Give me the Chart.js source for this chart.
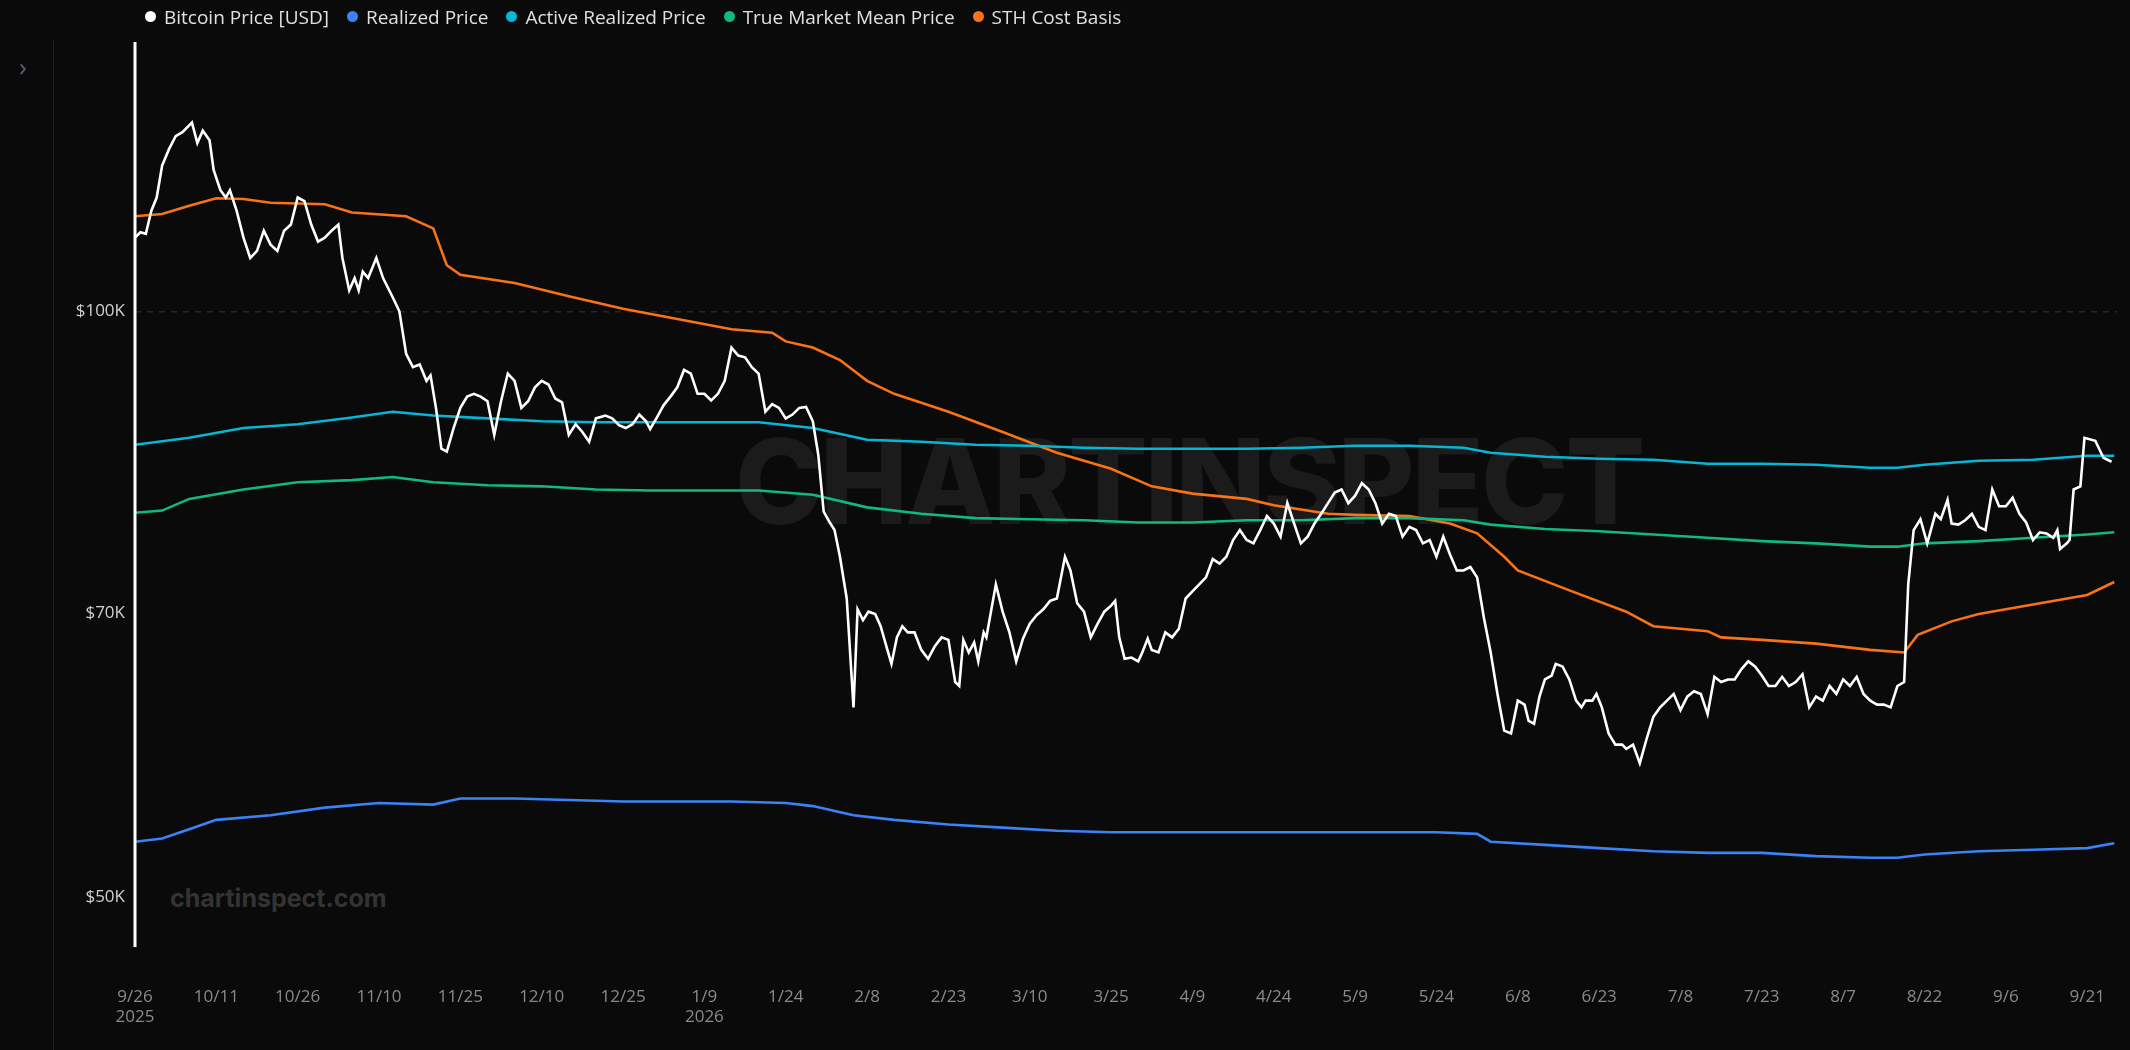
<!DOCTYPE html>
<html><head><meta charset="utf-8">
<script src="https://cdn.jsdelivr.net/npm/chart.js@4.4.1/dist/chart.umd.min.js"></script>
<style>
html,body{margin:0;padding:0;background:#0a0a0a;width:2130px;height:1050px;overflow:hidden;font-family:"Open Sans",Roboto,sans-serif}
#wrap{position:absolute;left:0;top:0;width:2130px;height:1050px}
canvas{position:absolute;left:0;top:0;z-index:2}
.wm{position:absolute;z-index:1;font-family:Inter,"Open Sans",sans-serif;font-weight:800;color:#1b1b1b;white-space:nowrap}
#side{position:absolute;left:53px;top:40px;width:1px;height:1010px;background:#1e1e22}
#chev{position:absolute;left:19px;top:48px;color:#5a6070;font-size:26px}
#legend{position:absolute;left:145px;top:4px;display:flex;gap:18px;color:#dde0e4;font-size:19px;z-index:3}
#legend span.d{display:inline-block;width:11px;height:11px;border-radius:50%;margin-right:8px;vertical-align:middle;position:relative;top:-2px}
</style></head><body>
<div id="wrap">
<div id="side"></div><div id="chev">&#x203A;</div>
<div class="wm" style="left:735px;top:410px;font-size:118px;letter-spacing:-3px">CHARTINSPECT</div>
<div class="wm" style="left:170px;top:883px;font-size:25px;color:#333;font-weight:700">chartinspect.com</div>
<div id="legend"></div>
<canvas id="c" width="2130" height="1050"></canvas>
</div>
<script>
const seriesNames=["Bitcoin Price [USD]","Realized Price","Active Realized Price","True Market Mean Price","STH Cost Basis"];
const seriesColors=["#ffffff","#3b82f6","#06b6d4","#10b981","#f97316"];
const startDate=new Date(2025,8,26);
const tickDays=[0,15,30,45,60,75,90,105,120,135,150,165,180,195,210,225,240,255,270,285,300,315,330,345,360];
const yTicks=[50000,70000,100000];

// Bitcoin price (thousand USD) with day offsets from 2025-09-26
const btcDays=[0,1,2,3,4,5,6.25,7.5,8.75,10.5,11.5,12.5,13.75,14.5,15.75,16.75,17.5,18.75,20,21.25,22.5,23.75,25,26.25,27.5,28.75,30,31.25,32.5,33.75,35,36.25,37.5,38.25,39.5,40.5,41.25,42,43,44.5,45.75,47.5,48.75,50,51.25,52.5,53.75,54.5,55.5,56.5,57.5,58.75,60,61.25,62.5,63.75,65,66.25,67.5,68.75,70,71.25,72.5,73.75,75,76.25,77.5,78.75,80,81.25,82.5,83.75,85,86.75,88,89.25,90.5,91.75,93,94.25,95,96.25,97.5,98.75,100,101.25,102.5,103.75,105,106.25,107.5,108.75,110,111.25,112.5,113.75,115,116.25,117.5,118.75,120,121.25,122.5,123.75,125,126,127,128,129,130,131.25,132.5,133.25,134.25,135.25,136.5,137.5,138.75,139.5,140.5,141.5,142.5,143.75,145,146.25,147.5,148.75,150,151.25,152,152.75,153.75,154.75,155.5,156.5,157,158.75,160,161.25,162.5,163.75,165,166.25,167.5,168.75,170,171.5,172.5,173.75,175,176.25,177.5,178.75,180,180.75,181.5,182.5,183.75,185,185.75,186.75,187.5,188.75,190,191.25,192.5,193.75,195,196.25,197.5,198.75,200,201.25,202.5,203.75,205,206.25,207.5,208.75,210,211.25,212.5,213.75,215,216.25,217.5,218.75,220,221.25,222.5,223.75,225,226.25,227.5,228.75,230,231.25,232.5,233.75,235,236.25,237.5,238.75,240,241.25,242.5,243.75,245,246.25,247.5,248.75,250,251.25,252.5,253.75,255,256.25,257,258,259,260,261.25,262,263.25,264.5,265.75,266.75,267.5,268.75,269.5,270.5,271.75,273,274.25,275,276.25,277.5,278.75,280,281.25,282.5,283.75,285,286.25,287.5,288.75,290,291.25,292.5,293.75,295,296.25,297.5,298.75,300,301.25,302.5,303.75,305,306.25,307.5,308.75,310,311.25,312.5,313.75,315,316.25,317.5,318.75,320,321.25,322.5,323.75,325,326.25,327,328,329.25,330.5,332,333,334.25,335,336.25,337.5,338.75,340,341.25,342.5,343.75,345,346.25,347.5,348.75,350,351.25,352.5,353.75,354.5,355,356.25,356.75,357.5,358.75,359.5,361.5,363,364.5];
const btcPrice=[109.1,109.8,109.6,112.6,114.4,118.8,121.1,123.0,123.6,125.0,122.0,123.8,122.4,118.2,115.4,114.4,115.4,112.6,109.1,106.5,107.4,110.0,108.2,107.4,110.0,110.8,114.4,113.9,110.8,108.6,109.1,110.0,110.8,106.5,102.5,104.0,102.5,104.8,104.0,106.5,104.0,101.7,100.0,95.1,93.6,93.9,92.1,92.7,89.2,85.0,84.7,87.1,89.2,90.4,90.7,90.4,89.9,86.4,89.9,92.9,92.1,89.2,89.9,91.4,92.1,91.7,90.2,89.8,86.4,87.5,86.7,85.7,88.1,88.4,88.1,87.4,87.1,87.5,88.5,87.8,87.0,88.2,89.5,90.4,91.4,93.3,92.9,90.7,90.7,90.0,90.7,92.1,95.8,94.9,94.7,93.6,92.9,88.8,89.6,89.2,88.1,88.5,89.2,89.3,87.8,84.4,78.9,78.0,77.2,74.8,71.2,62.6,70.3,69.4,70.1,69.9,68.9,67.0,65.9,68.0,68.9,68.4,68.4,67.0,66.3,67.3,68.0,67.8,64.5,64.2,67.8,66.8,67.6,66.1,68.4,68.0,72.4,70.1,68.4,66.1,67.9,69.1,69.8,70.3,71.0,71.2,74.8,73.6,70.8,70.1,68.0,69.1,70.1,70.6,71.0,68.0,66.3,66.4,66.1,66.8,67.9,67.0,66.8,68.4,68.0,68.7,71.2,71.8,72.4,73.0,74.6,74.2,74.8,76.3,77.2,76.3,76.0,77.2,78.5,77.8,76.6,79.7,77.8,76.0,76.6,77.8,78.7,79.7,80.7,81.0,79.7,80.4,81.6,81.0,79.7,77.8,78.7,78.5,76.6,77.5,77.2,76.0,76.3,74.8,76.6,75.0,73.6,73.6,73.9,73.0,69.6,66.8,63.6,60.9,60.7,63.1,62.8,61.6,61.4,63.4,64.7,65.0,65.9,65.7,64.7,63.1,62.6,63.1,63.1,63.6,62.6,60.7,59.9,59.9,59.6,59.9,58.6,60.3,61.9,62.6,63.1,63.6,62.4,63.4,63.8,63.6,62.1,64.9,64.5,64.7,64.7,65.5,66.1,65.7,65.0,64.2,64.2,64.9,64.2,64.5,65.1,62.6,63.4,63.1,64.2,63.6,64.7,64.2,64.9,63.6,63.1,62.8,62.8,62.6,64.2,64.5,72.4,77.2,78.2,76.0,78.7,78.2,80.0,77.8,77.7,78.1,78.7,77.5,77.2,81.0,79.4,79.4,80.2,78.7,77.9,76.3,77.0,76.9,76.5,77.2,75.5,76.0,76.3,81.0,81.3,86.1,85.8,84.1,83.7];

const activeDays=[0,10,20,30,40,47.5,55,65,75,85,95,105,115,125,135,145,155,165,175,185,195,205,215,225,235,245,250,260,270,280,290,300,310,320,325,330,340,350,360,365];
const activeRealized=[85.4,86.1,87.1,87.5,88.2,88.8,88.4,88.1,87.8,87.7,87.7,87.7,87.7,87.1,85.9,85.7,85.4,85.3,85.1,85.0,85.0,85.0,85.1,85.3,85.3,85.1,84.6,84.2,84.0,83.9,83.5,83.5,83.4,83.1,83.1,83.4,83.8,83.9,84.3,84.3];

const tmmDays=[0,5,10,20,30,40,47.5,55,65,75,85,95,105,115,125,135,145,155,165,175,185,195,205,215,225,235,245,250,260,270,280,290,300,310,320,325,330,340,350,360,365];
const trueMarketMean=[78.8,79.0,80.1,81.0,81.7,81.9,82.2,81.7,81.4,81.3,81.0,80.9,80.9,80.9,80.5,79.3,78.7,78.3,78.2,78.1,77.9,77.9,78.1,78.1,78.3,78.3,78.1,77.7,77.3,77.1,76.8,76.5,76.2,76.0,75.7,75.7,76.0,76.2,76.5,76.8,77.0];

const realizedDays=[0,5,10,15,25,35,45,55,60,70,80,90,100,110,120,125,132.5,140,150,160,170,180,190,200,210,220,230,240,247.5,250,260,270,280,290,300,310,320,325,330,340,350,360,365];
const realizedPrice=[53.4,53.6,54.2,54.8,55.1,55.6,55.9,55.8,56.2,56.2,56.1,56.0,56.0,56.0,55.9,55.7,55.1,54.8,54.5,54.3,54.1,54.0,54.0,54.0,54.0,54.0,54.0,54.0,53.9,53.4,53.2,53.0,52.8,52.7,52.7,52.5,52.4,52.4,52.6,52.8,52.9,53.0,53.3];

const sthDays=[0,5,10,15,20,25,35,40,50,55,57.5,60,70,80,90,100,110,117.5,120,125,130,135,140,150,160,170,180,187.5,195,205,210,220,225,235,242.5,247.5,252.5,255,265,275,280,290,292.5,300,310,320,326.25,328.75,335,340,350,360,365];
const sthCostBasis=[111.9,112.2,113.3,114.3,114.2,113.7,113.5,112.4,111.9,110.3,105.6,104.4,103.4,101.8,100.3,99.1,97.9,97.5,96.5,95.8,94.4,92.1,90.7,88.8,86.7,84.6,83.0,81.3,80.6,80.1,79.5,78.7,78.6,78.5,77.8,76.9,74.8,73.6,71.8,70.1,68.9,68.5,68.0,67.8,67.5,67.0,66.8,68.2,69.3,69.9,70.7,71.5,72.6];

const xs=[btcDays,realizedDays,activeDays,tmmDays,sthDays];
const ys=[btcPrice,realizedPrice,activeRealized,trueMarketMean,sthCostBasis];

document.getElementById('legend').innerHTML=seriesNames.map((n,i)=>`<div><span class="d" style="background:${seriesColors[i]}"></span>${n}</div>`).join('');

function fmtDay(d){const t=new Date(startDate.getTime()+d*86400000);return (t.getMonth()+1)+'/'+t.getDate();}

const datasets=seriesNames.map((n,i)=>({
  label:n,
  data:xs[i].map((d,k)=>({x:d,y:ys[i][k]*1000})),
  borderColor:seriesColors[i],
  borderWidth:2.6,
  pointRadius:0,tension:0,fill:false,
  order:i===0?0:1
}));

const leftLine={id:'leftLine',afterDatasetsDraw(c){const a=c.chartArea,x=c.ctx;x.save();x.strokeStyle='#ffffff';x.lineWidth=3;x.beginPath();x.moveTo(a.left,a.top);x.lineTo(a.left,a.bottom);x.stroke();x.restore();}};

new Chart(document.getElementById('c'),{
  type:'line',
  data:{datasets},
  options:{
    responsive:false,animation:false,
    layout:{padding:{top:42,right:13,left:0,bottom:0}},
    plugins:{legend:{display:false},tooltip:{enabled:false}},
    scales:{
      x:{type:'linear',min:0,max:365.5,
        afterBuildTicks:s=>{s.ticks=tickDays.map(v=>({value:v}));},
        afterFit:s=>{s.height=103;s.paddingRight=0;s.paddingLeft=0;},
        grid:{display:false,drawTicks:false},
        border:{display:false},
        ticks:{color:'#8a8a8a',font:{size:17,family:'"Open Sans"'},padding:40,maxRotation:0,autoSkip:false,
          callback:v=>{const l=fmtDay(v);if(v===0)return [l,'2025'];if(v===105)return [l,'2026'];return l;}}
      },
      y:{type:'logarithmic',min:47150,max:137500,
        afterBuildTicks:s=>{s.ticks=yTicks.map(v=>({value:v}));},
        afterFit:s=>{s.width=135;},
        border:{display:false,dash:[6,6]},
        grid:{drawTicks:false,color:c=>c.tick&&c.tick.value===100000?'#262626':'rgba(0,0,0,0)',lineWidth:1.5},
        ticks:{color:'#d0d0d0',font:{size:17,family:'"Open Sans"'},padding:10,
          callback:v=>'$'+(v/1000)+'K'}
      }
    }
  },
  plugins:[leftLine]
});
</script>
</body></html>
